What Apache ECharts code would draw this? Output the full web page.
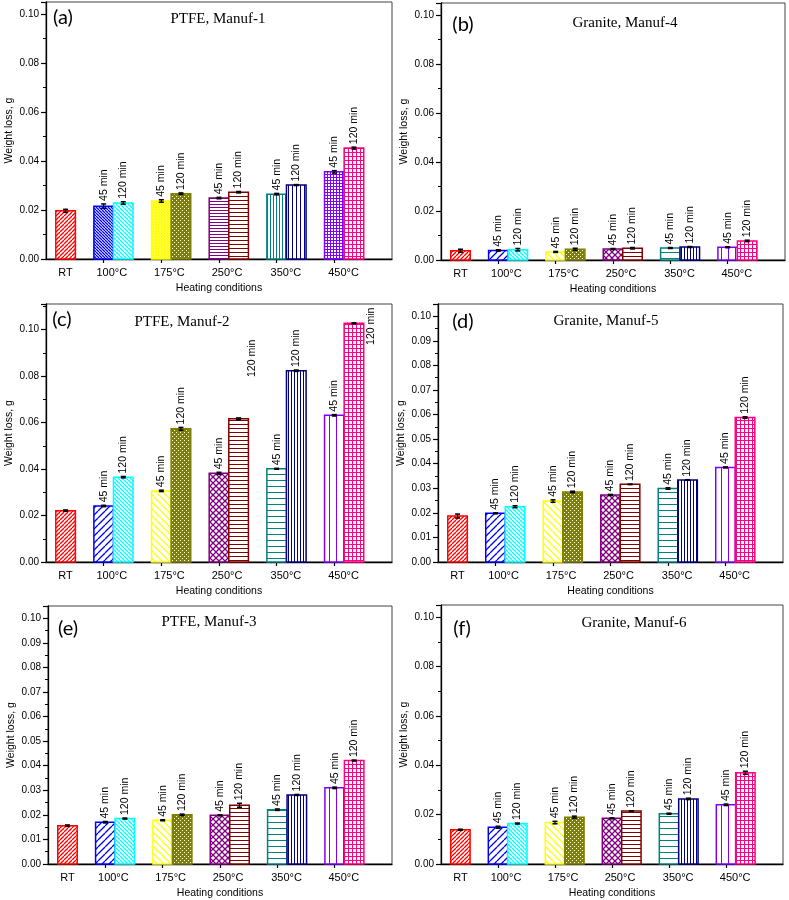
<!DOCTYPE html>
<html><head><meta charset="utf-8">
<script src="https://cdn.jsdelivr.net/npm/echarts@6/dist/echarts.min.js"></script>
<style>html,body{margin:0;padding:0;background:#fff}#c{width:789px;height:900px}</style>
</head><body><div id="c"></div>
<script>
// ---------- data ----------
const categories = ['RT', '100°C', '175°C', '250°C', '350°C', '450°C'];
const durations = ['45 min', '120 min'];
const panelLetters = ['(a)', '(b)', '(c)', '(d)', '(e)', '(f)'];
const panelTitles = ['PTFE, Manuf-1', 'Granite, Manuf-4', 'PTFE, Manuf-2', 'Granite, Manuf-5', 'PTFE, Manuf-3', 'Granite, Manuf-6'];
const yAxisName = 'Weight loss, g';
const xAxisName = 'Heating conditions';

// room-temperature reference bar (one per panel a..f)
const rtValues = [0.0197, 0.0038, 0.0221, 0.0187, 0.0156, 0.0139];
const rtErrors = [0.0006, 0.0006, 0.0003, 0.0008, 0.0003, 0.0002];

// (a) PTFE, Manuf-1
const ptfe1_45   = [0.0216, 0.0237, 0.0249, 0.0265, 0.0356];
const ptfe1_120  = [0.0229, 0.0267, 0.0273, 0.0302, 0.0453];
const ptfe1_e45  = [0.0009, 0.0005, 0.0003, 0.0003, 0.0005];
const ptfe1_e120 = [0.0005, 0.0003, 0.0003, 0.0002, 0.0004];
// (b) Granite, Manuf-4
const gran4_45   = [0.0039, 0.0033, 0.0045, 0.0049, 0.0052];
const gran4_120  = [0.0042, 0.0044, 0.0048, 0.0053, 0.0078];
const gran4_e45  = [0.0003, 0.0002, 0.0002, 0.0002, 0.0002];
const gran4_e120 = [0.0005, 0.0004, 0.0003, 0.0002, 0.0003];
// (c) PTFE, Manuf-2
const ptfe2_45   = [0.0241, 0.0306, 0.0382, 0.0401, 0.0631];
const ptfe2_120  = [0.0365, 0.0573, 0.0616, 0.0823, 0.1027];
const ptfe2_e45  = [0.0003, 0.0003, 0.0004, 0.0002, 0.0003];
const ptfe2_e120 = [0.0003, 0.0006, 0.0004, 0.0003, 0.0002];
// (d) Granite, Manuf-5
const gran5_45   = [0.0198, 0.0248, 0.0273, 0.0299, 0.0385];
const gran5_120  = [0.0225, 0.0285, 0.0316, 0.0334, 0.0588];
const gran5_e45  = [0.0002, 0.0005, 0.0002, 0.0003, 0.0002];
const gran5_e120 = [0.0004, 0.0003, 0.0001, 0.0001, 0.0003];
// (e) PTFE, Manuf-3
const ptfe3_45   = [0.0170, 0.0178, 0.0198, 0.0221, 0.0310];
const ptfe3_120  = [0.0185, 0.0200, 0.0239, 0.0281, 0.0421];
const ptfe3_e45  = [0.0003, 0.0002, 0.0002, 0.0003, 0.0003];
const ptfe3_e120 = [0.0002, 0.0003, 0.0008, 0.0002, 0.0002];
// (f) Granite, Manuf-6
const gran6_45   = [0.0149, 0.0168, 0.0185, 0.0204, 0.0240];
const gran6_120  = [0.0164, 0.0190, 0.0215, 0.0264, 0.0370];
const gran6_e45  = [0.0004, 0.0005, 0.0002, 0.0002, 0.0003];
const gran6_e120 = [0.0002, 0.0004, 0.0001, 0.0003, 0.0006];

// ---------- layout / style ----------
const FONT = '"Liberation Sans", Arial, sans-serif';
const SERIF = '"Liberation Serif", "Times New Roman", serif';
const LETTER_FONT = 'Lato, "Open Sans", sans-serif';
const BAR_W = 0.34;

const panelData = [
  [ptfe1_45, ptfe1_120, ptfe1_e45, ptfe1_e120],
  [gran4_45, gran4_120, gran4_e45, gran4_e120],
  [ptfe2_45, ptfe2_120, ptfe2_e45, ptfe2_e120],
  [gran5_45, gran5_120, gran5_e45, gran5_e120],
  [ptfe3_45, ptfe3_120, ptfe3_e45, ptfe3_e120],
  [gran6_45, gran6_120, gran6_e45, gran6_e120]
];

const layout = [
  {left: 46, top: 2, width: 346, height: 257, yMax: 0.105, yInt: 0.02, letter: [63, 18], title: [218, 19]},
  {left: 441, top: 3, width: 344, height: 257, yMax: 0.105, yInt: 0.02, letter: [463, 25], title: [625, 23]},
  {left: 46, top: 304, width: 346, height: 258, yMax: 0.111, yInt: 0.02, letter: [62, 320], title: [182, 322]},
  {left: 438, top: 304, width: 345, height: 258, yMax: 0.105, yInt: 0.01, letter: [463, 322], title: [606, 321]},
  {left: 48, top: 606, width: 344, height: 258, yMax: 0.105, yInt: 0.01, letter: [68, 629], title: [209, 622]},
  {left: 441, top: 605, width: 342, height: 260, yMax: 0.105, yInt: 0.02, letter: [462, 629], title: [634, 623]}
];

// labels drawn beside the bar instead of on top: [x, y] in axis units
const labelOverrides = {2: {6: [3.57, 0.0796], 10: [5.63, 0.0934]}};

const barColors = ['#FF0000', '#0000FF', '#00FFFF', '#FFFF00', '#808000', '#800080',
                   '#800000', '#008080', '#000080', '#8000FF', '#FF0080'];
const patternsA = [['/', 4], ['\\', 2.5], ['\\', 3.5], ['x', 3], ['dots', 4], ['-', 3],
                   ['-', 4], ['|', 3], ['|', 4], ['+', 3], ['+', 4]];
const patternsB = [['/', 4], ['/', 7], ['\\', 3.5], ['\\', 7], ['dots', 4], ['x', 6],
                   ['-', 3.5], ['-', 6], ['|', 3], ['|', 7], ['+', 3.5]];

function makePattern(kind, color, s) {
  const cv = document.createElement('canvas');
  const n = Math.max(2, Math.round(s));
  cv.width = n; cv.height = n;
  const g = cv.getContext('2d');
  g.fillStyle = '#fff'; g.fillRect(0, 0, n, n);
  g.strokeStyle = color; g.fillStyle = color; g.lineWidth = 1.3;
  if (kind === '/' || kind === 'x') {
    g.beginPath();
    for (let k = -1; k <= 1; k++) { g.moveTo(k * n, n); g.lineTo(k * n + n, 0); }
    g.stroke();
  }
  if (kind === '\\' || kind === 'x') {
    g.beginPath();
    for (let k = -1; k <= 1; k++) { g.moveTo(k * n, 0); g.lineTo(k * n + n, n); }
    g.stroke();
  }
  if (kind === '-' || kind === '+') g.fillRect(0, 0, n, 1);
  if (kind === '|' || kind === '+') g.fillRect(0, 0, 1, n);
  if (kind === 'dots') {
    g.fillStyle = color; g.fillRect(0, 0, n, n);
    g.fillStyle = '#fff'; g.fillRect(0, 0, 1, 1); g.fillRect(n / 2, n / 2, 1, 1);
  }
  return {image: cv, repeat: 'repeat'};
}

const panelPatterns = layout.map((l, p) => (p === 0 ? patternsA : patternsB)
  .map((pt, k) => ({fill: makePattern(pt[0], barColors[k], pt[1]), color: barColors[k]})));

// build bar items per panel
const panelItems = panelData.map((d, p) => {
  const items = [{x: BAR_W, v: rtValues[p], e: rtErrors[p], k: 0, label: null}];
  for (let i = 0; i < 5; i++) {
    items.push({x: i + 1, v: d[0][i], e: d[2][i], k: 1 + 2 * i, label: durations[0]});
    items.push({x: i + 1 + BAR_W, v: d[1][i], e: d[3][i], k: 2 + 2 * i, label: durations[1]});
  }
  return items;
});

function makeRender(p) {
  return function (params, api) {
    const it = panelItems[p][params.dataIndex];
    const lt = api.coord([it.x - BAR_W / 2, it.v]);
    const rb = api.coord([it.x + BAR_W / 2, 0]);
    const c = api.coord([it.x, it.v]);
    const eT = api.coord([it.x, it.v + it.e]);
    const eB = api.coord([it.x, it.v - it.e]);
    const pat = panelPatterns[p][it.k];
    const children = [
      {type: 'rect', shape: {x: lt[0], y: lt[1], width: rb[0] - lt[0], height: rb[1] - lt[1]},
       style: {fill: pat.fill, stroke: pat.color, lineWidth: 1.5}},
      {type: 'line', shape: {x1: c[0], y1: eT[1], x2: c[0], y2: eB[1]}, style: {stroke: '#000', lineWidth: 1.2}},
      {type: 'line', shape: {x1: c[0] - 2.5, y1: eT[1], x2: c[0] + 2.5, y2: eT[1]}, style: {stroke: '#000', lineWidth: 1.5}},
      {type: 'line', shape: {x1: c[0] - 2.5, y1: eB[1], x2: c[0] + 2.5, y2: eB[1]}, style: {stroke: '#000', lineWidth: 1.5}}
    ];
    if (it.label) {
      const ov = labelOverrides[p] && labelOverrides[p][params.dataIndex];
      const pos = ov ? api.coord(ov) : [c[0], eT[1] - 3];
      children.push({type: 'text', x: pos[0], y: pos[1], rotation: Math.PI / 2,
        style: {text: it.label, fontSize: 10.5, fontFamily: FONT, fill: '#000',
                align: 'left', verticalAlign: 'middle', textAlign: 'left', textVerticalAlign: 'middle'}});
    }
    return {type: 'group', children};
  };
}

const grids = [], xAxes = [], yAxes = [], series = [], graphics = [];
layout.forEach((l, p) => {
  grids.push({left: l.left, top: l.top, width: l.width, height: l.height,
              show: true, borderColor: '#444', borderWidth: 1, backgroundColor: 'transparent'});
  xAxes.push({
    type: 'value', gridIndex: p, min: 0, max: 6, interval: 1,
    name: xAxisName, nameLocation: 'middle', nameGap: 24,
    nameTextStyle: {fontFamily: FONT, fontSize: 10.5, color: '#000'},
    axisLine: {show: true, lineStyle: {color: '#000', width: 1.3}},
    axisTick: {show: true, length: 4, customValues: [1, 2, 3, 4, 5], lineStyle: {color: '#000', width: 1.2}},
    axisLabel: {show: true, customValues: [0.34, 1.14, 2.14, 3.14, 4.16, 5.16], margin: 8,
                fontFamily: FONT, fontSize: 11, color: '#000',
                formatter: v => categories[Math.round(v)]},
    splitLine: {show: false}
  });
  yAxes.push({
    type: 'value', gridIndex: p, min: 0, max: l.yMax, interval: l.yInt,
    name: yAxisName, nameLocation: 'middle', nameGap: 31,
    nameTextStyle: {fontFamily: FONT, fontSize: 10.5, color: '#000'},
    axisLine: {show: true, lineStyle: {color: '#000', width: 1.3}},
    axisTick: {show: true, length: 5, lineStyle: {color: '#000', width: 1.2}},
    minorTick: {show: true, splitNumber: 2, length: 3, lineStyle: {color: '#000', width: 1}},
    axisLabel: {margin: 7, fontFamily: FONT, fontSize: 10, color: '#000',
                formatter: v => (v > 0.1001 ? '' : v.toFixed(2))},
    splitLine: {show: false}, minorSplitLine: {show: false}
  });
  series.push({
    type: 'custom', coordinateSystem: 'cartesian2d', xAxisIndex: p, yAxisIndex: p,
    silent: true, clip: false,
    encode: {x: 0, y: 1},
    data: panelItems[p].map(it => [it.x, it.v]),
    renderItem: makeRender(p)
  });
  graphics.push({type: 'text', x: l.letter[0], y: l.letter[1],
    style: {text: panelLetters[p], fontFamily: LETTER_FONT, fontSize: 20, fill: '#000',
            align: 'center', verticalAlign: 'middle', textAlign: 'center', textVerticalAlign: 'middle'}});
  graphics.push({type: 'text', x: l.title[0], y: l.title[1],
    style: {text: panelTitles[p], fontFamily: SERIF, fontSize: 15, fill: '#000',
            align: 'center', verticalAlign: 'middle', textAlign: 'center', textVerticalAlign: 'middle'}});
});

const chart = echarts.init(document.getElementById('c'), null, {renderer: 'canvas'});
chart.setOption({
  animation: false,
  backgroundColor: '#fff',
  grid: grids, xAxis: xAxes, yAxis: yAxes, series: series,
  graphic: {elements: graphics}
});
</script></body></html>
